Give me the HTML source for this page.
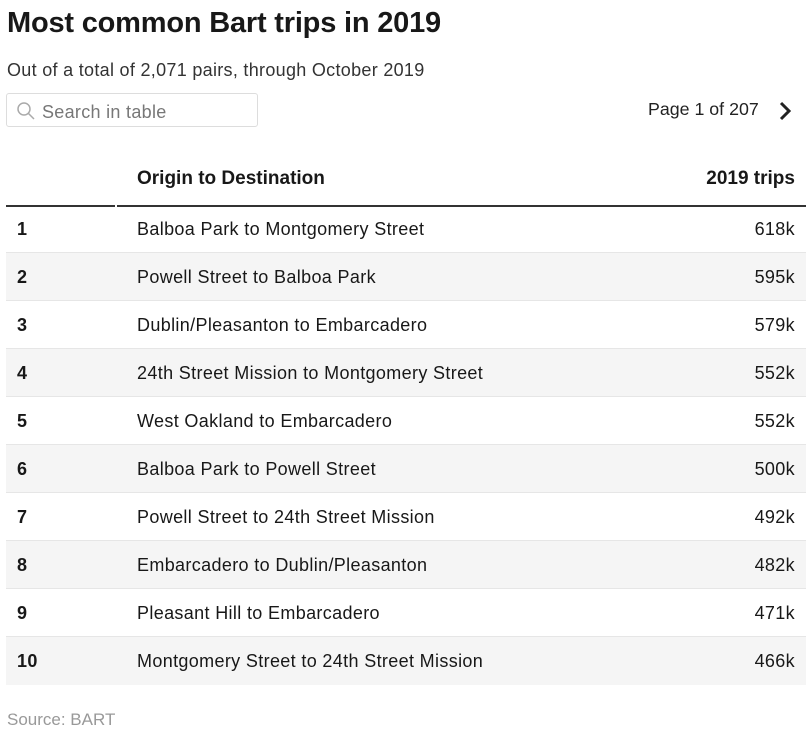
<!DOCTYPE html>
<html><head><style>
*{margin:0;padding:0;box-sizing:border-box}
body{width:810px;height:738px;background:#fff;font-family:"Liberation Sans",Arial,sans-serif;color:#181818;position:relative;overflow:hidden}
h1{position:absolute;left:7px;top:7px;font-size:29px;font-weight:bold;letter-spacing:-0.2px}
.sub{position:absolute;left:7px;top:60px;font-size:18px;letter-spacing:0.3px;color:#333}
.search{position:absolute;left:6px;top:93px;width:252px;height:34px;border:1px solid #ddd;border-radius:3px;font-size:18px;letter-spacing:0.3px;color:#777;padding:8px 0 0 35px}
.search svg{position:absolute;left:9px;top:7px}
.page{position:absolute;left:648px;top:99px;font-size:17.8px;color:#222}
.arrow{position:absolute;left:778px;top:100px}
.th{position:absolute;top:168px;font-size:19px;font-weight:bold}
.line{position:absolute;top:205px;height:2px;background:#333}
.row{position:absolute;left:6px;width:800px;height:48px;border-bottom:1px solid #e6e6e6;font-size:18px;letter-spacing:0.35px}
.row.g{background:#f5f5f5}
.row span{position:absolute;top:14px}
.n{left:11px;font-weight:bold}
.o{left:131px}
.v{right:11px}
.src{position:absolute;left:7px;top:710px;font-size:17px;color:#999}
</style></head><body>
<h1>Most common Bart trips in 2019</h1>
<div class="sub">Out of a total of 2,071 pairs, through October 2019</div>
<div class="search"><svg width="20" height="20" viewBox="0 0 20 20"><circle cx="8" cy="8" r="6" fill="none" stroke="#aaa" stroke-width="1.5"/><line x1="12.5" y1="12.5" x2="18" y2="18" stroke="#aaa" stroke-width="1.5"/></svg>Search in table</div>
<div class="page">Page 1 of 207</div>
<svg class="arrow" width="14" height="22" viewBox="0 0 14 22"><polyline points="3,3 11,11 3,19" fill="none" stroke="#222" stroke-width="3"/></svg>
<div class="th" style="left:137px">Origin to Destination</div>
<div class="th" style="right:15px">2019 trips</div>
<div class="line" style="left:6px;width:109px"></div>
<div class="line" style="left:117px;width:689px"></div>
<div class="row" style="top:207px;height:46px"><span class="n" style="top:12px">1</span><span class="o" style="top:12px">Balboa Park to Montgomery Street</span><span class="v" style="top:12px">618k</span></div>
<div class="row g" style="top:253px"><span class="n">2</span><span class="o">Powell Street to Balboa Park</span><span class="v">595k</span></div>
<div class="row" style="top:301px"><span class="n">3</span><span class="o">Dublin/Pleasanton to Embarcadero</span><span class="v">579k</span></div>
<div class="row g" style="top:349px"><span class="n">4</span><span class="o">24th Street Mission to Montgomery Street</span><span class="v">552k</span></div>
<div class="row" style="top:397px"><span class="n">5</span><span class="o">West Oakland to Embarcadero</span><span class="v">552k</span></div>
<div class="row g" style="top:445px"><span class="n">6</span><span class="o">Balboa Park to Powell Street</span><span class="v">500k</span></div>
<div class="row" style="top:493px"><span class="n">7</span><span class="o">Powell Street to 24th Street Mission</span><span class="v">492k</span></div>
<div class="row g" style="top:541px"><span class="n">8</span><span class="o">Embarcadero to Dublin/Pleasanton</span><span class="v">482k</span></div>
<div class="row" style="top:589px"><span class="n">9</span><span class="o">Pleasant Hill to Embarcadero</span><span class="v">471k</span></div>
<div class="row g" style="top:637px;border-bottom:none"><span class="n">10</span><span class="o">Montgomery Street to 24th Street Mission</span><span class="v">466k</span></div>
<div class="src">Source: BART</div>
</body></html>
